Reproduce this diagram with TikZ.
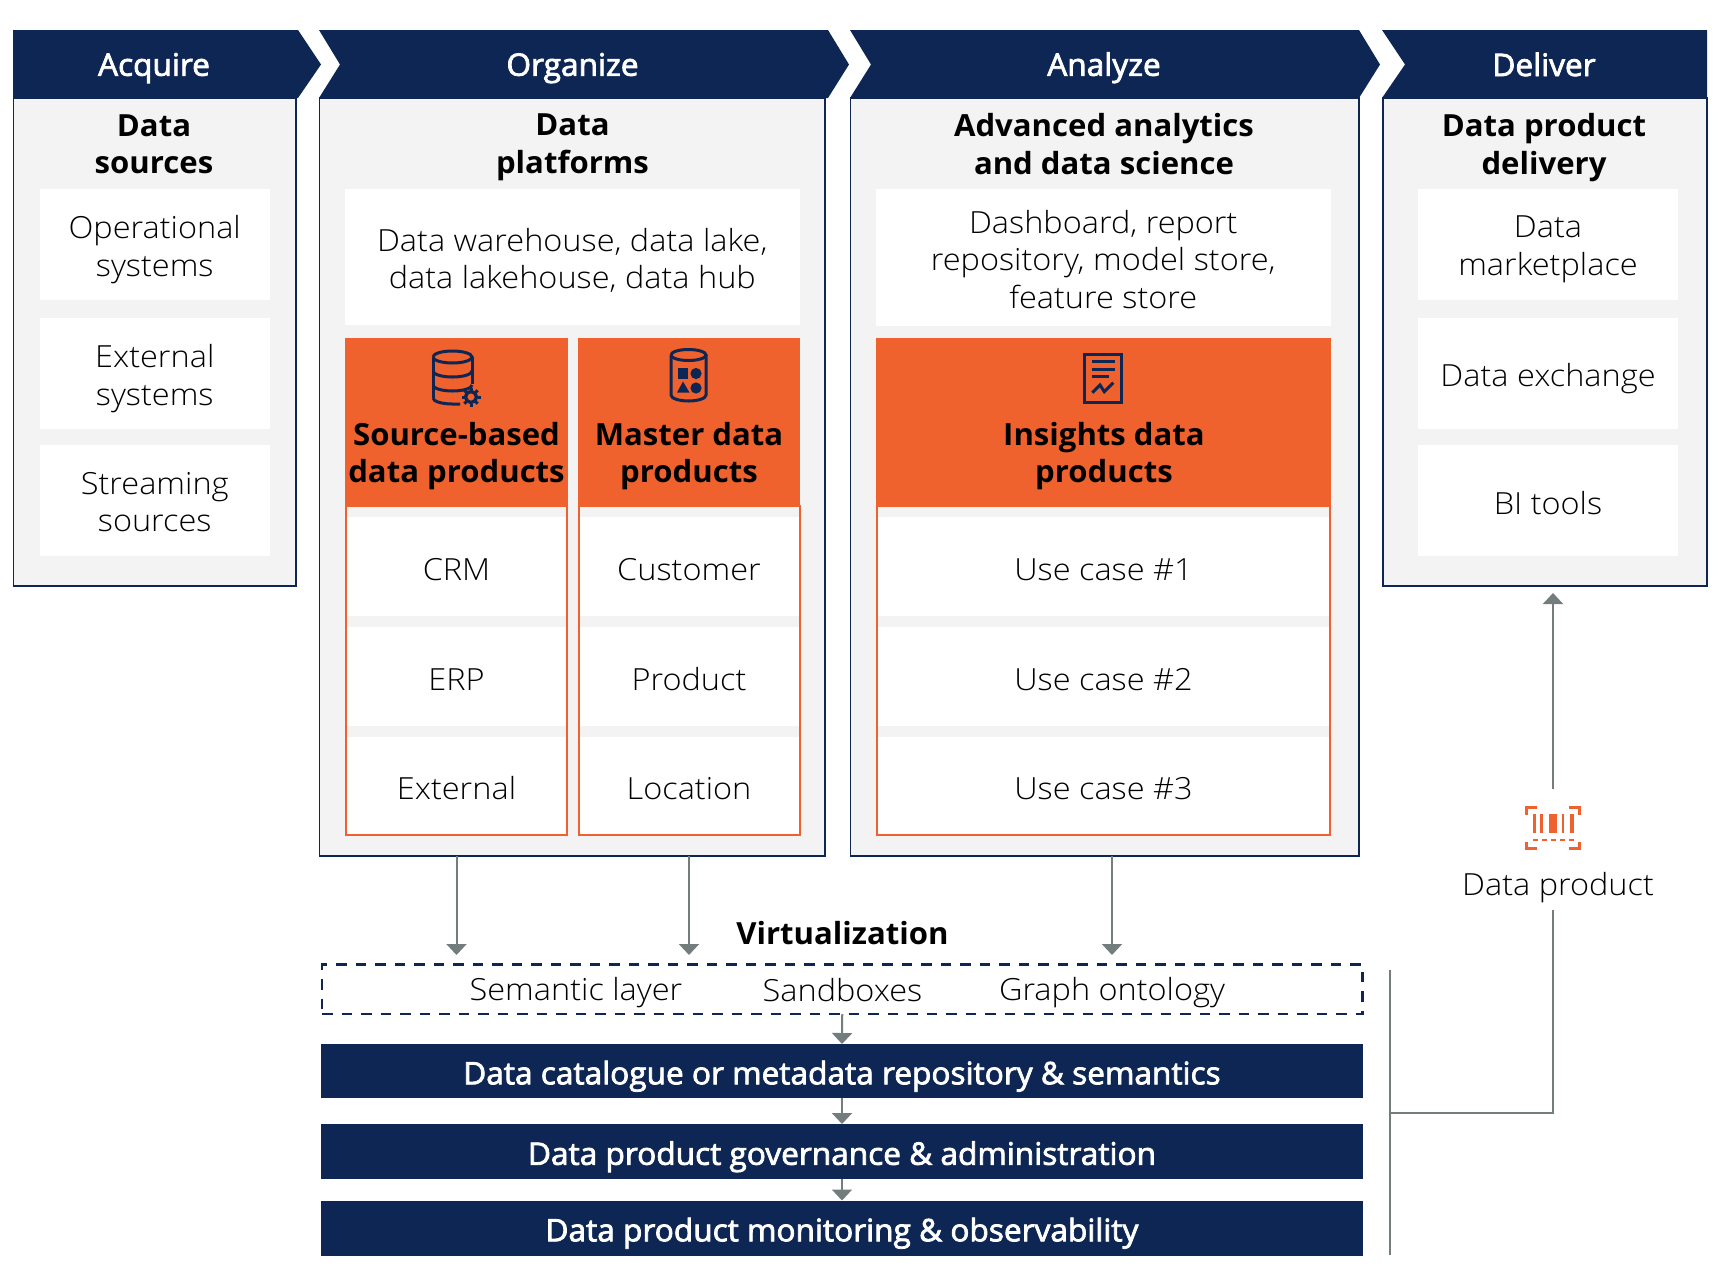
\documentclass[tikz,border=0pt]{standalone}
\usepackage{fontspec}
\setmainfont{Open Sans}[UprightFont=* Light,BoldFont=* Bold,UprightFeatures={FakeStretch=1.065},BoldFeatures={FakeStretch=1.02}]
\newfontfamily\medfont{Open Sans}[FakeBold=2.5,FakeStretch=1.02]
\usetikzlibrary{arrows.meta,calc}
\definecolor{navy}{HTML}{0E2654}
\definecolor{orng}{HTML}{EF622D}
\definecolor{pale}{HTML}{F3F3F3}
\definecolor{conn}{HTML}{737D7D}
\newcommand{\bx}[7]{%
  \pgfmathsetmacro{\bw}{#5-#3}\pgfmathsetmacro{\bh}{#6-#4}%
  \pgfmathsetmacro{\cx}{(#5+#3)/2}\pgfmathsetmacro{\cy}{(#6+#4)/2}%
  \node[#1,minimum width=\bw pt,minimum height=\bh pt] (#2) at (\cx,\cy) {#7};}
\newcommand{\lowstrutA}{\rule{0pt}{34pt}}
\newcommand{\lowstrutB}{\rule[-7pt]{0pt}{7pt}}
\tikzset{
  x=1pt,y=-1pt,
  base/.style={inner sep=0pt,outer sep=0pt,align=center,font=\fontsize{30.5}{37.5}\selectfont,text=black,
     execute at begin node=\lowstrutA,execute at end node=\lowstrutB},
  panel/.style={base,draw=navy,line width=1.8pt,fill=pale},
  whitebox/.style={base,fill=white},
  whitemulti/.style={whitebox,text depth=12pt},
  orangebox/.style={base,fill=orng},
  rowsbox/.style={base,draw=orng,line width=2pt,fill=pale},
  rowbox/.style={base,fill=white},
  bar/.style={base,fill=navy,text=white,font=\medfont\fontsize{31}{37}\selectfont},
  dashbox/.style={base,draw=navy,line width=2.2pt,dash pattern=on 10.5pt off 9pt},
  title/.style={base,font=\bfseries\fontsize{30.5}{37.5}\selectfont},
  head/.style={base,text=white,font=\medfont\fontsize{31}{37}\selectfont},
  label/.style={base},
  chev/.style={fill=navy,draw=none},
  arr/.style={draw=conn,line width=2pt,-{Triangle[width=20pt,length=11pt]}},
  lin/.style={draw=conn,line width=2pt},
  icon/.style={draw=navy,line width=3pt,fill=none},
  iconf/.style={fill=navy,draw=none},
  bc/.style={fill=orng,draw=none},
  bcl/.style={draw=orng,line width=2.6pt,fill=none},
}
\newcommand{\mlbx}[7]{% white box whose two or three lines sit 5 px lower
  \bx{whitebox}{#2}{#3}{#4}{#5}{#6}{}
  \node[base,yshift=-5pt] (#2t) at (#2) {#7};}
\begin{document}
\begin{tikzpicture}
\useasboundingbox (0,0) rectangle (1726,1280);
% panels
\bx{panel}{pacq}{13.5}{98}{296}{586}{}
\bx{panel}{porg}{319.5}{98}{825}{856}{}
\bx{panel}{pana}{850.5}{98}{1359}{856}{}
\bx{panel}{pdel}{1383}{98}{1707}{586}{}
% chevrons
\fill[chev] (13,30) -- (298,30) -- (321,64.5) -- (298,98) -- (13,98) -- cycle;
\fill[chev] (319,30) -- (828,30) -- (849,64.5) -- (828,98) -- (319,98) -- (340,64.5) -- cycle;
\fill[chev] (850,30) -- (1359,30) -- (1380,64.5) -- (1359,98) -- (850,98) -- (871,64.5) -- cycle;
\fill[chev] (1382,30) -- (1707,30) -- (1707,98) -- (1382,98) -- (1405,64.5) -- cycle;
\node[head] (hacq) at (154,62.5) {Acquire};
\node[head] (horg) at (572.5,62.5) {Organize};
\node[head] (hana) at (1104,62.5) {Analyze};
\node[head] (hdel) at (1544,62.5) {Deliver};
% titles
\node[title] (tacq) at (154,147.5) {Data\\sources};
\node[title] (torg) at (572.5,147.5) {Data\\platforms};
\node[title] (tana) at (1104,147.5) {Advanced analytics\\and data science};
\node[title] (tdel) at (1544,147.5) {Data product\\delivery};
% acquire
\mlbx{whitebox}{a1}{39.5}{189}{270}{300}{Operational\\systems}
\mlbx{whitebox}{a2}{39.5}{318}{270}{429}{External\\systems}
\mlbx{whitebox}{a3}{39.5}{445}{270}{556}{Streaming\\sources}
% deliver
\mlbx{whitebox}{d1}{1418}{189}{1678}{300}{Data\\marketplace}
\bx{whitebox}{d2}{1418}{318}{1678}{429}{Data exchange}
\bx{whitebox}{d3}{1418}{445}{1678}{556}{BI tools}
% platform / analyze text
\mlbx{whitebox}{o1}{344.5}{189}{800}{325}{Data warehouse, data lake,\\data lakehouse, data hub}
\mlbx{whitebox}{n1}{875.5}{189}{1331}{326}{Dashboard, report\\repository, model store,\\feature store}
% row frames
\bx{rowsbox}{src}{346}{506}{567}{835}{}
\bx{rowsbox}{mst}{578.5}{506}{799.5}{835}{}
\bx{rowsbox}{ins}{877}{506}{1330}{835}{}
% rows
\bx{rowbox}{s1}{347}{517}{566}{616}{CRM}
\bx{rowbox}{s2}{347}{627}{566}{726}{ERP}
\bx{rowbox}{s3}{347}{737}{566}{834}{External}
\bx{rowbox}{m1}{579.5}{517}{798.5}{616}{Customer}
\bx{rowbox}{m2}{579.5}{627}{798.5}{726}{Product}
\bx{rowbox}{m3}{579.5}{737}{798.5}{834}{Location}
\bx{rowbox}{i1}{878}{517}{1329}{616}{Use case \#1}
\bx{rowbox}{i2}{878}{627}{1329}{726}{Use case \#2}
\bx{rowbox}{i3}{878}{737}{1329}{834}{Use case \#3}
% orange headers
\bx{orangebox}{osrc}{344.5}{338}{568}{507}{}
\bx{orangebox}{omst}{577.5}{338}{800}{507}{}
\bx{orangebox}{oins}{875.5}{338}{1331}{507}{}
\node[title] (tsrc) at (456.5,456) {Source-based\\data products};
\node[title] (tmst) at (689,456) {Master data\\products};
\node[title] (tins) at (1104,456) {Insights data\\products};
% database icon
\draw[icon] (433,357) arc[start angle=180,end angle=-180,x radius=19.5,y radius=6];
\draw[icon] (433,357) -- (433,398);
\draw[icon] (472,357) -- (472,384);
\draw[icon] (433,371) arc[start angle=180,end angle=0,x radius=19.5,y radius=6];
\draw[icon] (433,385) arc[start angle=180,end angle=0,x radius=19.5,y radius=6];
\draw[icon] (433,398) arc[start angle=180,end angle=90,x radius=19.5,y radius=6] -- (460,404);
\draw[navy,line width=3.4pt] (471,397) circle[radius=5.5];
\foreach \a in {0,45,...,315}{\draw[navy,line width=3pt] ($(471,397)+(\a:6.5)$) -- ($(471,397)+(\a:9.5)$);}
% cylinder icon
\draw[icon] (671,355) arc[start angle=180,end angle=-180,x radius=17.5,y radius=5.5];
\draw[icon] (671,355) -- (671,395) arc[start angle=180,end angle=0,x radius=17.5,y radius=6] -- (706,355);
\fill[iconf] (677.5,368) rectangle (688,378.5);
\fill[iconf] (696,373.5) circle[radius=5.6];
\fill[iconf] (677,392.5) -- (683,381.5) -- (689.5,392.5) -- cycle;
\fill[iconf] (696,388) circle[radius=5.6];
% document icon
\draw[icon] (1084.5,354) rectangle (1121.5,402);
\draw[icon] (1092,361.7) -- (1115,361.7);
\draw[icon] (1092,369) -- (1115,369);
\draw[icon] (1092,376) -- (1109,376);
\draw[icon] (1092.3,392.7) -- (1100,385) -- (1104.3,391.7) -- (1113.3,382.7);
% virtualization
\node[title] (virt) at (842.5,931) {Virtualization};
\bx{dashbox}{vbox}{322}{964.5}{1362.5}{1014}{}
\node[label] (sem) at (576,987.5) {Semantic layer};
\node[label] (san) at (842.5,987.5) {Sandboxes};
\node[label] (gon) at (1112,987.5) {Graph ontology};
\bx{bar}{b1}{321}{1044}{1363}{1098}{Data catalogue or metadata repository \& semantics}
\bx{bar}{b2}{321}{1124}{1363}{1179}{Data product governance \& administration}
\bx{bar}{b3}{321}{1200.5}{1363}{1255.5}{Data product monitoring \& observability}
% connectors
\coordinate (vtip) at (0,955);
\draw[arr] (src |- porg.south) -- (src |- vtip);
\draw[arr] (mst |- porg.south) -- (mst |- vtip);
\draw[arr] (gon |- pana.south) -- (gon |- vtip);
\draw[arr] (vbox.south) -- (b1.north);
\draw[arr] (b1.south) -- (b2.north);
\draw[arr] (b2.south) -- (b3.north);
% right side
\coordinate (sT) at (1390,970);
\coordinate (sB) at (1390,1255);
\coordinate (sJ) at (1390,1112.5);
\coordinate (tip) at (1553,593);
\coordinate (upS) at (1553,789);
\node[label] (dp) at (1558,882) {Data product};
\coordinate (dnS) at (1553,910);
\draw[lin] (sT) -- (sB);
\draw[lin] (sJ) -| (dnS);
\draw[arr] (upS) -- (tip);
% barcode icon
\draw[bcl] (1537,807.3) -- (1526.3,807.3) -- (1526.3,815);
\draw[bcl] (1568.5,807.3) -- (1579.2,807.3) -- (1579.2,815);
\draw[bcl] (1537,848.7) -- (1526.3,848.7) -- (1526.3,842);
\draw[bcl] (1568.5,848.7) -- (1579.2,848.7) -- (1579.2,842);
\fill[bc] (1532.5,814) rectangle (1536,833);
\fill[bc] (1540,814) rectangle (1542.7,833);
\fill[bc] (1549,814) rectangle (1557,833);
\fill[bc] (1561.5,814) rectangle (1563.8,833);
\fill[bc] (1570,814) rectangle (1573.5,833);
\draw[draw=orng,line width=2pt,dash pattern=on 5pt off 4pt] (1533,840) -- (1574,840);
\end{tikzpicture}
\end{document}
